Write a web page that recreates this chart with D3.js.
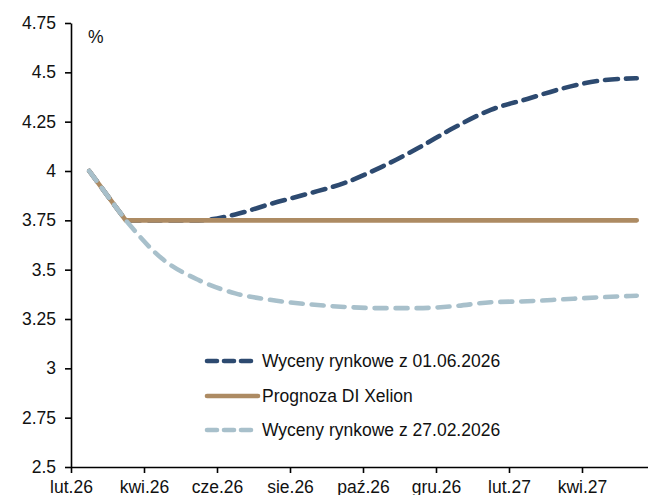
<!DOCTYPE html>
<html>
<head>
<meta charset="utf-8">
<script src="https://cdn.jsdelivr.net/npm/d3@7"></script>
<style>
  body { margin: 0; background: #fff; }
  svg { display: block; font-family: "Liberation Sans", Arial, sans-serif; }
</style>
</head>
<body>
<script>
// months from lut.26 (index 0) to maj.27 (index 15), points sit mid-month
var monthIdx = d3.range(16);
var tickLabels = ['lut.26', 'kwi.26', 'cze.26', 'sie.26', 'paź.26', 'gru.26', 'lut.27', 'kwi.27'];
var yTicks = [2.5, 2.75, 3, 3.25, 3.5, 3.75, 4, 4.25, 4.5, 4.75];

var market0106 = [4.0, 3.75, 3.75, 3.75, 3.78, 3.835, 3.885, 3.94, 4.02, 4.115, 4.22, 4.31, 4.365, 4.42, 4.458, 4.47];
var forecast   = [4.0, 3.75, 3.75, 3.75, 3.75, 3.75, 3.75, 3.75, 3.75, 3.75, 3.75, 3.75, 3.75, 3.75, 3.75, 3.75];
var market2702 = [4.0, 3.75, 3.555, 3.447, 3.38, 3.346, 3.325, 3.311, 3.305, 3.305, 3.315, 3.335, 3.34, 3.35, 3.36, 3.368];

var legendNames = ['Wyceny rynkowe z 01.06.2026', 'Prognoza DI Xelion', 'Wyceny rynkowe z 27.02.2026'];

var svgW = 648, svgH = 495;
var plotLeft = 71, plotTop = 23, plotBottom = 467;
var fontSize = '17.5px';

var svg = d3.select('body').append('svg')
	.attr('width', svgW)
	.attr('height', svgH);

var x = d3.scaleLinear().domain([0, 16]).range([plotLeft, plotLeft + 16 * 36.5]);
var y = d3.scaleLinear().domain([2.5, 4.75]).range([plotBottom, plotTop]);

// axes
var xAxis = d3.axisBottom(x)
	.tickValues(d3.range(0, 16, 2))
	.tickFormat(function (d, i) { return tickLabels[i]; })
	.tickSize(6)
	.tickSizeOuter(0)
	.tickPadding(4);

var gx = svg.append('g')
	.attr('transform', 'translate(0,' + plotBottom + ')')
	.call(xAxis);

var yAxis = d3.axisLeft(y)
	.tickValues(yTicks)
	.tickFormat(function (d) { return String(d); })
	.tickSize(6)
	.tickSizeOuter(0)
	.tickPadding(9);

var gy = svg.append('g')
	.attr('transform', 'translate(' + plotLeft + ',0)')
	.call(yAxis);

svg.selectAll('.domain').attr('stroke', '#000').attr('stroke-width', 1.6);
svg.selectAll('.tick line').attr('stroke', '#000').attr('stroke-width', 1.6);
svg.selectAll('.tick text').attr('fill', '#111').style('font-size', fontSize);
gx.selectAll('.tick text').attr('y', 25.5).attr('dy', null);

svg.append('text')
	.attr('x', 88).attr('y', 43)
	.style('font-size', fontSize)
	.attr('fill', '#111')
	.text('%');

// lines: first step (lut->mar) is straight, the rest is smoothed
var straight = d3.line()
	.x(function (d) { return x(d[0] + 0.5); })
	.y(function (d) { return y(d[1]); });
var smooth = d3.line()
	.x(function (d) { return x(d[0] + 0.5); })
	.y(function (d) { return y(d[1]); })
	.curve(d3.curveMonotoneX);

function pathFor(values) {
	var pts = values.map(function (v, i) { return [monthIdx[i], v]; });
	return straight(pts.slice(0, 2)) + smooth(pts.slice(1)).replace(/^M/, 'L');
}

var series = [
	{ data: market0106, color: '#2d4a70', dash: '13,8', width: 4.6 },
	{ data: forecast, color: '#ad8b63', dash: null, width: 4.6 },
	{ data: market2702, color: '#a8c0cb', dash: '12,9', width: 4.6 }
];

svg.selectAll('path.series')
	.data(series)
	.enter()
	.append('path')
	.attr('class', 'series')
	.attr('d', function (d) { return pathFor(d.data); })
	.attr('fill', 'none')
	.attr('stroke', function (d) { return d.color; })
	.attr('stroke-width', function (d) { return d.width; })
	.attr('stroke-dasharray', function (d) { return d.dash; })
	.attr('stroke-linecap', 'round')
	.attr('stroke-linejoin', 'round');

// legend
var legendY = [361, 396, 430];
var legend = svg.selectAll('g.legend')
	.data(series)
	.enter()
	.append('g')
	.attr('class', 'legend')
	.attr('transform', function (d, i) { return 'translate(205,' + legendY[i] + ')'; });

legend.append('line')
	.attr('x1', 2).attr('x2', 53)
	.attr('y1', 0).attr('y2', 0)
	.attr('stroke', function (d) { return d.color; })
	.attr('stroke-width', function (d) { return d.width; })
	.attr('stroke-dasharray', function (d) { return d.dash ? '10,7' : null; })
	.attr('stroke-linecap', 'round');

legend.append('text')
	.attr('x', 57)
	.attr('y', 0)
	.attr('dy', '0.35em')
	.style('font-size', fontSize)
	.attr('fill', '#111')
	.text(function (d, i) { return legendNames[i]; });
</script>
</body>
</html>
